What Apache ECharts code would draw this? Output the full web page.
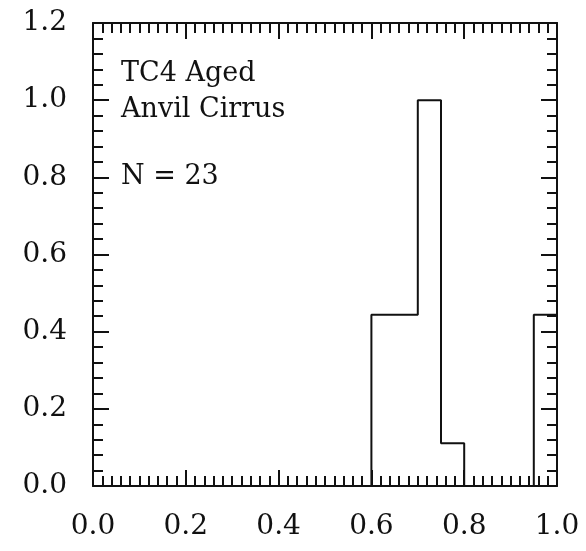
<!DOCTYPE html>
<html>
<head>
<meta charset="utf-8">
<script src="https://cdn.jsdelivr.net/npm/echarts@6/dist/echarts.min.js"></script>
<style>
html,body{margin:0;padding:0;background:#fff;}
#chart{width:586px;height:551px;}
</style>
</head>
<body>
<div id="chart"></div>
<script>
// Histogram bins (left edges, width 0.05) and normalised frequencies
var binStarts = [0.00,0.05,0.10,0.15,0.20,0.25,0.30,0.35,0.40,0.45,0.50,0.55,0.60,0.65,0.70,0.75,0.80,0.85,0.90,0.95];
var binValues = [0,0,0,0,0,0,0,0,0,0,0,0,0.444,0.444,1.0,0.111,0,0,0,0.444];
var binEnd = 1.00;
var xTicks = ['0.0','0.2','0.4','0.6','0.8','1.0'];
var yTicks = ['0.0','0.2','0.4','0.6','0.8','1.0','1.2'];
var annotation = ['TC4 Aged', 'Anvil Cirrus', 'N = 23'];

var stepData = binStarts.map(function(x, i){ return [x, binValues[i]]; });
stepData.push([binEnd, binValues[binValues.length - 1]]);

var ink = '#111';
var font = 'DejaVu Serif';

function axisCommon(showLabel, labelMargin, minorSplit){
  return {
    axisLine: {show: true, onZero: false, lineStyle: {color: ink, width: 2}},
    axisTick: {show: true, inside: true, length: 16, lineStyle: {color: ink, width: 2}},
    minorTick: {show: true, splitNumber: minorSplit, length: 10, lineStyle: {color: ink, width: 2}},
    splitLine: {show: false},
    minorSplitLine: {show: false},
    axisLabel: {
      show: showLabel, margin: labelMargin, color: ink,
      fontFamily: font, fontSize: 28
    }
  };
}

var xBottom = Object.assign({type: 'value', position: 'bottom', min: 0, max: 1, interval: 0.2}, axisCommon(true, 27, 10));
xBottom.axisLabel.formatter = function(v){ return xTicks[Math.round(v / 0.2)]; };
var xTop = Object.assign({type: 'value', position: 'top', min: 0, max: 1, interval: 0.2}, axisCommon(false, 8, 10));
var yLeft = Object.assign({type: 'value', position: 'left', min: 0, max: 1.2, interval: 0.2}, axisCommon(true, 26, 5));
yLeft.axisLabel.formatter = function(v){ return yTicks[Math.round(v / 0.2)]; };
var yRight = Object.assign({type: 'value', position: 'right', min: 0, max: 1.2, interval: 0.2}, axisCommon(false, 8, 5));

var chart = echarts.init(document.getElementById('chart'), null, {renderer: 'canvas'});
chart.setOption({
  backgroundColor: '#fff',
  animation: false,
  grid: {left: 93, right: 29, top: 23, bottom: 65, containLabel: false},
  xAxis: [xBottom, xTop],
  yAxis: [yLeft, yRight],
  series: [{
    type: 'line',
    xAxisIndex: 0, yAxisIndex: 0,
    step: 'end',
    data: stepData,
    symbol: 'none',
    lineStyle: {color: ink, width: 2},
    clip: false,
    z: 3
  }],
  graphic: [
    {type: 'text', left: 121, top: 60, style: {text: annotation[0], font: '27px "DejaVu Serif"', fill: ink}},
    {type: 'text', left: 121, top: 96, style: {text: annotation[1], font: '27px "DejaVu Serif"', fill: ink}},
    {type: 'text', left: 121, top: 163, style: {text: annotation[2], font: '27px "DejaVu Serif"', fill: ink}}
  ]
});
</script>
</body>
</html>
